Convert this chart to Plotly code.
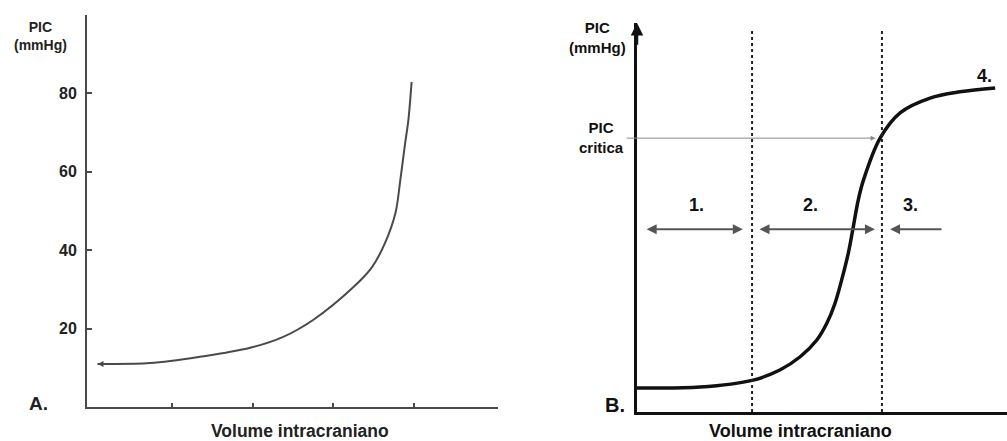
import plotly.graph_objects as go

W, H = 1007, 441

# Panel A: pressure-volume curve (exponential rise)
vol_a = [0.08, 0.73, 1.35, 1.97, 2.38, 2.75, 3.25, 3.48, 3.64, 3.77, 3.83, 3.89, 3.93, 3.97]
pic_a = [11.0, 11.2, 12.8, 15.1, 17.9, 22.2, 30.6, 35.7, 41.8, 49.5, 57.9, 67.3, 73.2, 82.9]
ticks_a = [20, 40, 60, 80]
xticks_a = [1, 2, 3, 4]

# Panel B: sigmoid compliance curve with zones
vol_b = [0.0, 1.70, 3.14, 3.86, 4.41, 4.86, 5.13, 5.35, 5.53, 5.71, 5.83, 5.98, 6.12,
         6.57, 7.11, 7.92, 8.73, 9.68]
pic_b = [6.2, 6.4, 8.2, 10.8, 14.2, 18.5, 22.8, 27.9, 33.9, 40.8, 46.8, 54.5, 59.6,
         70.4, 76.9, 80.7, 82.3, 83.3]
zone_bounds = [3.11, 6.62]
pic_critica = 70.4
zone_labels = ["1.", "2.", "3."]
zone_label_x = [1.62, 4.68, 7.38]

FONT = "Liberation Sans, Arial, sans-serif"
GRAY_A = "#4a4a4a"
INK = "#111111"


def px(x):
    return x / W


def py(y):
    return 1 - y / H


fig = go.Figure()

fig.add_trace(go.Scatter(
    x=vol_a, y=pic_a, mode="lines", xaxis="x", yaxis="y",
    line=dict(color=GRAY_A, width=2, shape="spline", smoothing=1.0),
    hoverinfo="skip", showlegend=False,
))
fig.add_trace(go.Scatter(
    x=vol_b, y=pic_b, mode="lines", xaxis="x2", yaxis="y2",
    line=dict(color=INK, width=3.5, shape="spline", smoothing=1.0),
    hoverinfo="skip", showlegend=False,
))

axis_common = dict(showgrid=False, zeroline=False, showline=True, fixedrange=True)

fig.update_layout(
    width=W, height=H,
    margin=dict(l=0, r=0, t=0, b=0),
    paper_bgcolor="white", plot_bgcolor="white",
    font=dict(family=FONT, color=INK),
    xaxis=dict(**axis_common, domain=[px(87), px(498)], range=[-0.05, 5.04],
               linecolor=GRAY_A, linewidth=2, ticks="inside", ticklen=4,
               tickwidth=2, tickcolor=GRAY_A, tickvals=xticks_a,
               showticklabels=False, anchor="y"),
    yaxis=dict(**axis_common, domain=[py(407), py(15)], range=[0, 100],
               linecolor=GRAY_A, linewidth=2, ticks="inside", ticklen=5,
               tickwidth=2, tickcolor=GRAY_A, tickvals=ticks_a,
               ticktext=[str(t) for t in ticks_a], ticklabelstandoff=5,
               tickfont=dict(size=16, family=FONT, color="#222", weight="bold"),
               anchor="x"),
    xaxis2=dict(**axis_common, domain=[px(637), 1.0], range=[0, 10],
                linecolor=INK, linewidth=2.5, ticks="", showticklabels=False,
                anchor="y2"),
    yaxis2=dict(**axis_common, domain=[py(412), py(23)], range=[0, 100],
                linecolor=INK, linewidth=2.5, ticks="", showticklabels=False,
                anchor="x2"),
)

# Dotted zone boundaries
for xb in zone_bounds:
    fig.add_shape(type="line", xref="x2", yref="y2", x0=xb, x1=xb, y0=0, y1=98.2,
                  line=dict(color="#222", width=2, dash="dot"))

ann = []

# Arrowhead on top of the B axis
ann.append(dict(x=0, y=100, ax=0, ay=94, xref="x2", yref="y2", axref="x2", ayref="y2",
                text="", showarrow=True, arrowhead=2, arrowsize=1, arrowwidth=2.5,
                arrowcolor=INK))

# Small arrow at the start of curve A
ann.append(dict(x=vol_a[0], y=pic_a[0], ax=vol_a[0] + 0.25, ay=pic_a[0], xref="x", yref="y",
                axref="x", ayref="y", text="", showarrow=True, arrowhead=2,
                arrowsize=0.8, arrowwidth=1.5, arrowcolor=GRAY_A))

# Critical pressure guide line
ann.append(dict(x=6.45, y=pic_critica, ax=-0.32, ay=pic_critica, xref="x2", yref="y2",
                axref="x2", ayref="y2", text="", showarrow=True, arrowhead=2,
                arrowsize=1, arrowwidth=1, arrowcolor="#888"))

# Zone arrows
arrow_y = 47.0
ann.append(dict(x=2.86, y=arrow_y, ax=0.22, ay=arrow_y, xref="x2", yref="y2", axref="x2",
                ayref="y2", text="", showarrow=True, arrowhead=2, startarrowhead=2,
                arrowside="end+start", arrowsize=1, startarrowsize=1, arrowwidth=2,
                arrowcolor="#555"))
ann.append(dict(x=6.43, y=arrow_y, ax=3.27, ay=arrow_y, xref="x2", yref="y2", axref="x2",
                ayref="y2", text="", showarrow=True, arrowhead=2, startarrowhead=2,
                arrowside="end+start", arrowsize=1, startarrowsize=1, arrowwidth=2,
                arrowcolor="#555"))
ann.append(dict(x=6.84, y=arrow_y, ax=8.27, ay=arrow_y, xref="x2", yref="y2", axref="x2",
                ayref="y2", text="", showarrow=True, arrowhead=2, arrowsize=1,
                arrowwidth=2, arrowcolor="#555"))

for lab, lx in zip(zone_labels, zone_label_x):
    ann.append(dict(x=lx, y=53.2, xref="x2", yref="y2", text=f"<b>{lab}</b>",
                    showarrow=False, font=dict(size=18, family=FONT, color=INK)))
ann.append(dict(x=9.4, y=86.4, xref="x2", yref="y2", text="<b>4.</b>",
                showarrow=False, font=dict(size=18, family=FONT, color=INK)))


def label(text, x, y, size, color=INK):
    return dict(x=px(x), y=py(y), xref="paper", yref="paper", text=text,
                showarrow=False, xanchor="center", yanchor="middle",
                font=dict(size=size, family=FONT, color=color))


ann.append(label("<b>PIC<br>(mmHg)</b>", 40, 36, 14, "#222"))
ann.append(label("<b>PIC<br>(mmHg)</b>", 597, 38, 15))
ann.append(label("<b>PIC<br>critica</b>", 601, 137.5, 15))
ann.append(label("<b>A.</b>", 38, 403, 19, "#222"))
ann.append(label("<b>B.</b>", 615, 405, 20))
ann.append(label("<b>Volume intracraniano</b>", 300, 431, 17.5, "#222"))
ann.append(label("<b>Volume intracraniano</b>", 800, 430.5, 18))

fig.update_layout(annotations=ann)

fig.write_html("out.html")
